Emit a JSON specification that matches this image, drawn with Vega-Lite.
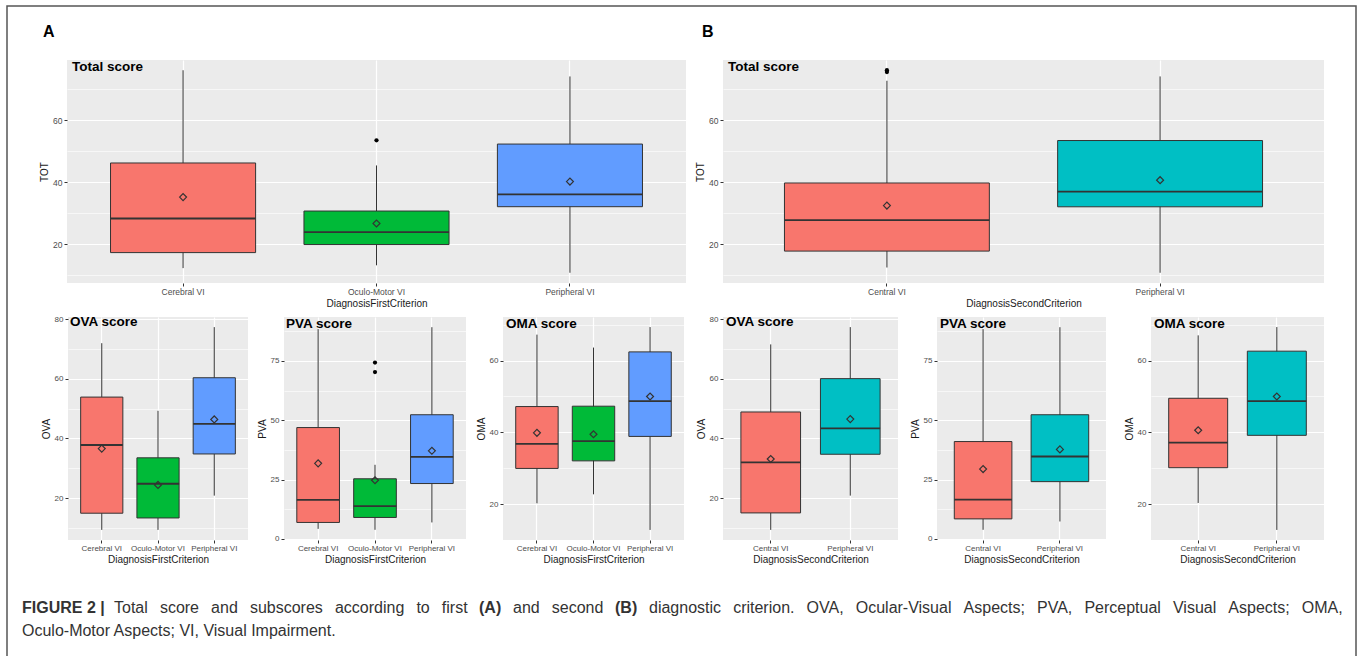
{
"$schema": "https://vega.github.io/schema/vega-lite/v6.json",
"autosize": {"type": "none"},
"padding": {"left": 7, "top": 6, "right": 1353, "bottom": 650},
"background": "#FFFFFF",
"bounds": "flush",
"spacing": 0,
"resolve": {"scale": {"fill": "independent"}},
"config": {"view": {"stroke": null}, "font": "Liberation Sans", "axis": {"labelFont": "Liberation Sans", "titleFont": "Liberation Sans"}, "title": {"font": "Liberation Sans", "subtitleFont": "Liberation Sans"}},
"datasets": {
"stats": [
{"panel": "A_TOT", "cat": "Cerebral VI", "lo": 12.3, "q1": 17.3, "med": 28.3, "q3": 46.2, "hi": 76.1, "mean": 35.2},
{"panel": "A_TOT", "cat": "Oculo-Motor VI", "lo": 13.2, "q1": 19.9, "med": 23.9, "q3": 30.7, "hi": 45.4, "mean": 26.7},
{"panel": "A_TOT", "cat": "Peripheral VI", "lo": 10.8, "q1": 32.1, "med": 36.1, "q3": 52.3, "hi": 74.1, "mean": 40.2},
{"panel": "B_TOT", "cat": "Central VI", "lo": 12.5, "q1": 17.8, "med": 27.8, "q3": 39.8, "hi": 72.8, "mean": 32.5},
{"panel": "B_TOT", "cat": "Peripheral VI", "lo": 10.8, "q1": 32.1, "med": 37.0, "q3": 53.5, "hi": 74.2, "mean": 40.7},
{"panel": "A_OVA", "cat": "Cerebral VI", "lo": 9.3, "q1": 14.9, "med": 37.8, "q3": 53.9, "hi": 72.0, "mean": 36.6},
{"panel": "A_OVA", "cat": "Oculo-Motor VI", "lo": 9.3, "q1": 13.3, "med": 24.8, "q3": 33.5, "hi": 49.3, "mean": 24.4},
{"panel": "A_OVA", "cat": "Peripheral VI", "lo": 20.8, "q1": 34.8, "med": 44.9, "q3": 60.4, "hi": 77.4, "mean": 46.4},
{"panel": "A_PVA", "cat": "Cerebral VI", "lo": 4.2, "q1": 6.9, "med": 16.4, "q3": 46.9, "hi": 88.4, "mean": 31.8},
{"panel": "A_PVA", "cat": "Oculo-Motor VI", "lo": 3.8, "q1": 9.0, "med": 13.8, "q3": 25.3, "hi": 31.2, "mean": 24.7},
{"panel": "A_PVA", "cat": "Peripheral VI", "lo": 6.9, "q1": 23.3, "med": 34.5, "q3": 52.3, "hi": 89.2, "mean": 37.1},
{"panel": "A_OMA", "cat": "Cerebral VI", "lo": 20.3, "q1": 30.0, "med": 36.8, "q3": 47.2, "hi": 67.2, "mean": 39.9},
{"panel": "A_OMA", "cat": "Oculo-Motor VI", "lo": 22.8, "q1": 32.1, "med": 37.6, "q3": 47.3, "hi": 63.6, "mean": 39.5},
{"panel": "A_OMA", "cat": "Peripheral VI", "lo": 12.9, "q1": 38.9, "med": 48.7, "q3": 62.4, "hi": 69.3, "mean": 50.0},
{"panel": "B_OVA", "cat": "Central VI", "lo": 9.3, "q1": 15.0, "med": 32.0, "q3": 48.9, "hi": 71.6, "mean": 33.1},
{"panel": "B_OVA", "cat": "Peripheral VI", "lo": 20.8, "q1": 34.7, "med": 43.4, "q3": 60.1, "hi": 77.4, "mean": 46.5},
{"panel": "B_PVA", "cat": "Central VI", "lo": 3.8, "q1": 8.4, "med": 16.5, "q3": 41.0, "hi": 88.4, "mean": 29.4},
{"panel": "B_PVA", "cat": "Peripheral VI", "lo": 7.3, "q1": 24.1, "med": 34.7, "q3": 52.3, "hi": 89.2, "mean": 37.7},
{"panel": "B_OMA", "cat": "Central VI", "lo": 20.4, "q1": 30.2, "med": 37.2, "q3": 49.5, "hi": 67.0, "mean": 40.6},
{"panel": "B_OMA", "cat": "Peripheral VI", "lo": 12.9, "q1": 39.2, "med": 48.7, "q3": 62.6, "hi": 69.3, "mean": 50.0}
],
"outliers": [
{"panel": "A_TOT", "cat": "Oculo-Motor VI", "val": 53.5},
{"panel": "B_TOT", "cat": "Central VI", "val": 75.6},
{"panel": "B_TOT", "cat": "Central VI", "val": 76.2},
{"panel": "A_PVA", "cat": "Oculo-Motor VI", "val": 70.3},
{"panel": "A_PVA", "cat": "Oculo-Motor VI", "val": 74.3}
]
},
"vconcat": [
{"bounds": "flush", "spacing": 0, "vconcat": [
 {"width": 1349, "height": 680, "data": {"values": []}, "mark": "rect", "encoding": {},
  "view": {"stroke": "#555555", "strokeWidth": 1.5, "fill": null},
  "title": {"text": "FIGURE 2 |", "subtitle": "Oculo-Motor Aspects; VI, Visual Impairment.",
   "orient": "bottom", "anchor": "start", "frame": "group", "baseline": "top", "offset": -86, "dx": 15,
   "fontSize": 16, "fontWeight": "bold", "color": "#333333",
   "subtitleFontSize": 16, "subtitleFontWeight": "normal", "subtitleColor": "#333333", "subtitlePadding": 7}}
]},
{"width": 10, "height": 54, "data": {"values": []}, "mark": "rect", "encoding": {}},
{"bounds": "flush", "spacing": 0, "resolve": {"scale": {"fill": "independent"}}, "hconcat": [
 {"width": 60, "height": 10, "data": {"values": []}, "mark": "rect", "encoding": {},
  "title": {"text": "A", "anchor": "start", "frame": "group", "orient": "top", "baseline": "top", "offset": 20, "dx": 36, "fontSize": 16, "fontWeight": "bold", "color": "#000000"}},
 {"width": 619, "height": 223, "view": {"fill": "#EBEBEB", "stroke": null},
  "title": {"text": "Total score", "anchor": "start", "frame": "group", "orient": "top", "baseline": "top", "offset": -13, "dx": 5, "fontSize": 13.5, "fontWeight": "bold", "color": "#000000"},
  "data": {"name": "stats"}, "transform": [{"filter": "datum.panel === 'A_TOT'"}],
  "resolve": {"axis": {"y": "independent"}},
  "encoding": {"x": {"field": "cat", "type": "nominal", "scale": {"type": "band", "domain": ["Cerebral VI", "Oculo-Motor VI", "Peripheral VI"], "paddingInner": 0.25, "paddingOuter": 0.225},
   "axis": {"title": "DiagnosisFirstCriterion", "labelAngle": 0, "domain": false, "tickSize": 3, "tickColor": "#333333", "labelFontSize": 8.5, "labelColor": "#4D4D4D", "labelPadding": 1.5, "titleFontSize": 10, "titleFontWeight": "normal", "titleColor": "#1A1A1A", "titlePadding": 2, "grid": true, "gridColor": "#FFFFFF", "gridWidth": 1.2, "bandPosition": 0.5}}},
  "layer": [
   {"mark": {"type": "rule", "color": "#333333", "strokeWidth": 1}, "encoding": {"y": {"field": "lo", "type": "quantitative", "scale": {"domain": [7.5, 79.4], "nice": false, "zero": false},
     "axis": {"orient": "left", "title": "TOT", "values": [20, 40, 60], "domain": false, "tickSize": 3, "tickColor": "#333333", "labelFontSize": 8.5, "labelColor": "#4D4D4D", "labelPadding": 2, "titleFontSize": 10, "titleFontWeight": "normal", "titleColor": "#1A1A1A", "titlePadding": 3, "grid": true, "gridColor": "#FFFFFF", "gridWidth": 1.2}}, "y2": {"field": "hi"}}},
   {"mark": {"type": "bar", "stroke": "#333333", "strokeWidth": 1}, "encoding": {"y": {"field": "q1", "type": "quantitative", "axis": {"orient": "left", "title": null, "values": [10, 30, 50, 70], "labels": false, "ticks": false, "domain": false, "grid": true, "gridColor": "#FFFFFF", "gridWidth": 0.6}}, "y2": {"field": "q3"}, "fill": {"field": "cat", "type": "nominal", "scale": {"domain": ["Cerebral VI", "Oculo-Motor VI", "Peripheral VI"], "range": ["#F8766D", "#00BA38", "#619CFF"]}, "legend": null}}},
   {"mark": {"type": "bar", "stroke": "#333333", "strokeWidth": 1.8, "fillOpacity": 0}, "encoding": {"y": {"field": "med", "type": "quantitative", "axis": null}, "y2": {"field": "med"}}},
   {"mark": {"type": "point", "shape": "diamond", "filled": false, "stroke": "#333333", "strokeWidth": 1.2, "size": 48, "opacity": 1}, "encoding": {"y": {"field": "mean", "type": "quantitative", "axis": null}}},
   {"data": {"name": "outliers"}, "transform": [{"filter": "datum.panel === 'A_TOT'"}], "mark": {"type": "circle", "color": "#000000", "size": 18, "opacity": 1}, "encoding": {"y": {"field": "val", "type": "quantitative", "axis": null}}}
  ]},
 {"width": 37, "height": 10, "data": {"values": []}, "mark": "rect", "encoding": {},
  "title": {"text": "B", "anchor": "start", "frame": "group", "orient": "top", "baseline": "top", "offset": 20, "dx": 16, "fontSize": 16, "fontWeight": "bold", "color": "#000000"}},
 {"width": 601, "height": 223, "view": {"fill": "#EBEBEB", "stroke": null},
  "title": {"text": "Total score", "anchor": "start", "frame": "group", "orient": "top", "baseline": "top", "offset": -13, "dx": 5, "fontSize": 13.5, "fontWeight": "bold", "color": "#000000"},
  "data": {"name": "stats"}, "transform": [{"filter": "datum.panel === 'B_TOT'"}],
  "resolve": {"axis": {"y": "independent"}},
  "encoding": {"x": {"field": "cat", "type": "nominal", "scale": {"type": "band", "domain": ["Central VI", "Peripheral VI"], "paddingInner": 0.25, "paddingOuter": 0.225},
   "axis": {"title": "DiagnosisSecondCriterion", "labelAngle": 0, "domain": false, "tickSize": 3, "tickColor": "#333333", "labelFontSize": 8.5, "labelColor": "#4D4D4D", "labelPadding": 1.5, "titleFontSize": 10, "titleFontWeight": "normal", "titleColor": "#1A1A1A", "titlePadding": 2, "grid": true, "gridColor": "#FFFFFF", "gridWidth": 1.2, "bandPosition": 0.5}}},
  "layer": [
   {"mark": {"type": "rule", "color": "#333333", "strokeWidth": 1}, "encoding": {"y": {"field": "lo", "type": "quantitative", "scale": {"domain": [7.5, 79.5], "nice": false, "zero": false},
     "axis": {"orient": "left", "title": "TOT", "values": [20, 40, 60], "domain": false, "tickSize": 3, "tickColor": "#333333", "labelFontSize": 8.5, "labelColor": "#4D4D4D", "labelPadding": 2, "titleFontSize": 10, "titleFontWeight": "normal", "titleColor": "#1A1A1A", "titlePadding": 3, "grid": true, "gridColor": "#FFFFFF", "gridWidth": 1.2}}, "y2": {"field": "hi"}}},
   {"mark": {"type": "bar", "stroke": "#333333", "strokeWidth": 1}, "encoding": {"y": {"field": "q1", "type": "quantitative", "axis": {"orient": "left", "title": null, "values": [10, 30, 50, 70], "labels": false, "ticks": false, "domain": false, "grid": true, "gridColor": "#FFFFFF", "gridWidth": 0.6}}, "y2": {"field": "q3"}, "fill": {"field": "cat", "type": "nominal", "scale": {"domain": ["Central VI", "Peripheral VI"], "range": ["#F8766D", "#00BFC4"]}, "legend": null}}},
   {"mark": {"type": "bar", "stroke": "#333333", "strokeWidth": 1.8, "fillOpacity": 0}, "encoding": {"y": {"field": "med", "type": "quantitative", "axis": null}, "y2": {"field": "med"}}},
   {"mark": {"type": "point", "shape": "diamond", "filled": false, "stroke": "#333333", "strokeWidth": 1.2, "size": 48, "opacity": 1}, "encoding": {"y": {"field": "mean", "type": "quantitative", "axis": null}}},
   {"data": {"name": "outliers"}, "transform": [{"filter": "datum.panel === 'B_TOT'"}], "mark": {"type": "circle", "color": "#000000", "size": 18, "opacity": 1}, "encoding": {"y": {"field": "val", "type": "quantitative", "axis": null}}}
  ]}
]},
{"width": 10, "height": 257, "data": {"values": []}, "mark": "rect", "encoding": {}},
{"bounds": "flush", "spacing": 0, "resolve": {"scale": {"fill": "independent"}}, "hconcat": [
 {"width": 61, "height": 10, "data": {"values": []}, "mark": "rect", "encoding": {},
  "title": {"text": "Total \u00a0\u2009score \u00a0\u2009and \u00a0\u2009subscores \u00a0\u2009according \u00a0\u2009to \u00a0\u2009first",
   "orient": "bottom", "anchor": "start", "frame": "group", "baseline": "top", "offset": 273, "dx": 107, "fontSize": 16, "fontWeight": "normal", "color": "#333333"}},
 {"width": 180, "height": 223, "view": {"fill": "#EBEBEB", "stroke": null},
  "title": {"text": "OVA score", "anchor": "start", "frame": "group", "orient": "top", "baseline": "top", "offset": -13, "dx": 2, "fontSize": 13.5, "fontWeight": "bold", "color": "#000000"},
  "data": {"name": "stats"}, "transform": [{"filter": "datum.panel === 'A_OVA'"}],
  "resolve": {"axis": {"y": "independent"}},
  "encoding": {"x": {"field": "cat", "type": "nominal", "scale": {"type": "band", "domain": ["Cerebral VI", "Oculo-Motor VI", "Peripheral VI"], "paddingInner": 0.25, "paddingOuter": 0.225},
   "axis": {"title": "DiagnosisFirstCriterion", "labelAngle": 0, "domain": false, "tickSize": 3, "tickColor": "#333333", "labelFontSize": 8, "labelColor": "#4D4D4D", "labelPadding": 1.5, "titleFontSize": 10, "titleFontWeight": "normal", "titleColor": "#1A1A1A", "titlePadding": 2, "grid": true, "gridColor": "#FFFFFF", "gridWidth": 1.2, "bandPosition": 0.5}}},
  "layer": [
   {"mark": {"type": "rule", "color": "#333333", "strokeWidth": 1}, "encoding": {"y": {"field": "lo", "type": "quantitative", "scale": {"domain": [5.9, 80.8], "nice": false, "zero": false},
     "axis": {"orient": "left", "title": "OVA", "values": [20, 40, 60, 80], "domain": false, "tickSize": 3, "tickColor": "#333333", "labelFontSize": 8, "labelColor": "#4D4D4D", "labelPadding": 2, "titleFontSize": 10, "titleFontWeight": "normal", "titleColor": "#1A1A1A", "titlePadding": 3, "grid": true, "gridColor": "#FFFFFF", "gridWidth": 1.2}}, "y2": {"field": "hi"}}},
   {"mark": {"type": "bar", "stroke": "#333333", "strokeWidth": 1}, "encoding": {"y": {"field": "q1", "type": "quantitative", "axis": {"orient": "left", "title": null, "values": [10, 30, 50, 70], "labels": false, "ticks": false, "domain": false, "grid": true, "gridColor": "#FFFFFF", "gridWidth": 0.6}}, "y2": {"field": "q3"}, "fill": {"field": "cat", "type": "nominal", "scale": {"domain": ["Cerebral VI", "Oculo-Motor VI", "Peripheral VI"], "range": ["#F8766D", "#00BA38", "#619CFF"]}, "legend": null}}},
   {"mark": {"type": "bar", "stroke": "#333333", "strokeWidth": 1.8, "fillOpacity": 0}, "encoding": {"y": {"field": "med", "type": "quantitative", "axis": null}, "y2": {"field": "med"}}},
   {"mark": {"type": "point", "shape": "diamond", "filled": false, "stroke": "#333333", "strokeWidth": 1.2, "size": 48, "opacity": 1}, "encoding": {"y": {"field": "mean", "type": "quantitative", "axis": null}}}
  ]},
 {"width": 36, "height": 10, "data": {"values": []}, "mark": "rect", "encoding": {},
  "title": {"text": "(A)", "orient": "bottom", "anchor": "start", "frame": "group", "baseline": "top", "offset": 273, "dx": 231, "fontSize": 16, "fontWeight": "bold", "color": "#333333"}},
 {"width": 182, "height": 223, "view": {"fill": "#EBEBEB", "stroke": null},
  "title": {"text": "PVA score", "anchor": "start", "frame": "group", "orient": "top", "baseline": "top", "offset": -13, "dx": 2, "fontSize": 13.5, "fontWeight": "bold", "color": "#000000"},
  "data": {"name": "stats"}, "transform": [{"filter": "datum.panel === 'A_PVA'"}],
  "resolve": {"axis": {"y": "independent"}},
  "encoding": {"x": {"field": "cat", "type": "nominal", "scale": {"type": "band", "domain": ["Cerebral VI", "Oculo-Motor VI", "Peripheral VI"], "paddingInner": 0.25, "paddingOuter": 0.225},
   "axis": {"title": "DiagnosisFirstCriterion", "labelAngle": 0, "domain": false, "tickSize": 3, "tickColor": "#333333", "labelFontSize": 8, "labelColor": "#4D4D4D", "labelPadding": 1.5, "titleFontSize": 10, "titleFontWeight": "normal", "titleColor": "#1A1A1A", "titlePadding": 2, "grid": true, "gridColor": "#FFFFFF", "gridWidth": 1.2, "bandPosition": 0.5}}},
  "layer": [
   {"mark": {"type": "rule", "color": "#333333", "strokeWidth": 1}, "encoding": {"y": {"field": "lo", "type": "quantitative", "scale": {"domain": [-0.5, 93.5], "nice": false, "zero": false},
     "axis": {"orient": "left", "title": "PVA", "values": [0, 25, 50, 75], "domain": false, "tickSize": 3, "tickColor": "#333333", "labelFontSize": 8, "labelColor": "#4D4D4D", "labelPadding": 2, "titleFontSize": 10, "titleFontWeight": "normal", "titleColor": "#1A1A1A", "titlePadding": 3, "grid": true, "gridColor": "#FFFFFF", "gridWidth": 1.2}}, "y2": {"field": "hi"}}},
   {"mark": {"type": "bar", "stroke": "#333333", "strokeWidth": 1}, "encoding": {"y": {"field": "q1", "type": "quantitative", "axis": {"orient": "left", "title": null, "values": [12.5, 37.5, 62.5, 87.5], "labels": false, "ticks": false, "domain": false, "grid": true, "gridColor": "#FFFFFF", "gridWidth": 0.6}}, "y2": {"field": "q3"}, "fill": {"field": "cat", "type": "nominal", "scale": {"domain": ["Cerebral VI", "Oculo-Motor VI", "Peripheral VI"], "range": ["#F8766D", "#00BA38", "#619CFF"]}, "legend": null}}},
   {"mark": {"type": "bar", "stroke": "#333333", "strokeWidth": 1.8, "fillOpacity": 0}, "encoding": {"y": {"field": "med", "type": "quantitative", "axis": null}, "y2": {"field": "med"}}},
   {"mark": {"type": "point", "shape": "diamond", "filled": false, "stroke": "#333333", "strokeWidth": 1.2, "size": 48, "opacity": 1}, "encoding": {"y": {"field": "mean", "type": "quantitative", "axis": null}}},
   {"data": {"name": "outliers"}, "transform": [{"filter": "datum.panel === 'A_PVA'"}], "mark": {"type": "circle", "color": "#000000", "size": 18, "opacity": 1}, "encoding": {"y": {"field": "val", "type": "quantitative", "axis": null}}}
  ]},
 {"width": 37, "height": 10, "data": {"values": []}, "mark": "rect", "encoding": {},
  "title": {"text": "and \u00a0\u2009second", "orient": "bottom", "anchor": "start", "frame": "group", "baseline": "top", "offset": 273, "dx": 47, "fontSize": 16, "fontWeight": "normal", "color": "#333333"}},
 {"width": 181, "height": 223, "view": {"fill": "#EBEBEB", "stroke": null},
  "title": {"text": "OMA score", "anchor": "start", "frame": "group", "orient": "top", "baseline": "top", "offset": -13, "dx": 3, "fontSize": 13.5, "fontWeight": "bold", "color": "#000000"},
  "data": {"name": "stats"}, "transform": [{"filter": "datum.panel === 'A_OMA'"}],
  "resolve": {"axis": {"y": "independent"}},
  "encoding": {"x": {"field": "cat", "type": "nominal", "scale": {"type": "band", "domain": ["Cerebral VI", "Oculo-Motor VI", "Peripheral VI"], "paddingInner": 0.25, "paddingOuter": 0.225},
   "axis": {"title": "DiagnosisFirstCriterion", "labelAngle": 0, "domain": false, "tickSize": 3, "tickColor": "#333333", "labelFontSize": 8, "labelColor": "#4D4D4D", "labelPadding": 1.5, "titleFontSize": 10, "titleFontWeight": "normal", "titleColor": "#1A1A1A", "titlePadding": 2, "grid": true, "gridColor": "#FFFFFF", "gridWidth": 1.2, "bandPosition": 0.5}}},
  "layer": [
   {"mark": {"type": "rule", "color": "#333333", "strokeWidth": 1}, "encoding": {"y": {"field": "lo", "type": "quantitative", "scale": {"domain": [10.1, 72.1], "nice": false, "zero": false},
     "axis": {"orient": "left", "title": "OMA", "values": [20, 40, 60], "domain": false, "tickSize": 3, "tickColor": "#333333", "labelFontSize": 8, "labelColor": "#4D4D4D", "labelPadding": 2, "titleFontSize": 10, "titleFontWeight": "normal", "titleColor": "#1A1A1A", "titlePadding": 3, "grid": true, "gridColor": "#FFFFFF", "gridWidth": 1.2}}, "y2": {"field": "hi"}}},
   {"mark": {"type": "bar", "stroke": "#333333", "strokeWidth": 1}, "encoding": {"y": {"field": "q1", "type": "quantitative", "axis": {"orient": "left", "title": null, "values": [30, 50, 70], "labels": false, "ticks": false, "domain": false, "grid": true, "gridColor": "#FFFFFF", "gridWidth": 0.6}}, "y2": {"field": "q3"}, "fill": {"field": "cat", "type": "nominal", "scale": {"domain": ["Cerebral VI", "Oculo-Motor VI", "Peripheral VI"], "range": ["#F8766D", "#00BA38", "#619CFF"]}, "legend": null}}},
   {"mark": {"type": "bar", "stroke": "#333333", "strokeWidth": 1.8, "fillOpacity": 0}, "encoding": {"y": {"field": "med", "type": "quantitative", "axis": null}, "y2": {"field": "med"}}},
   {"mark": {"type": "point", "shape": "diamond", "filled": false, "stroke": "#333333", "strokeWidth": 1.2, "size": 48, "opacity": 1}, "encoding": {"y": {"field": "mean", "type": "quantitative", "axis": null}}}
  ]},
 {"width": 39, "height": 10, "data": {"values": []}, "mark": "rect", "encoding": {},
  "title": {"text": "(B)", "orient": "bottom", "anchor": "start", "frame": "group", "baseline": "top", "offset": 273, "dx": -69, "fontSize": 16, "fontWeight": "bold", "color": "#333333"}},
 {"width": 175, "height": 223, "view": {"fill": "#EBEBEB", "stroke": null},
  "title": {"text": "OVA score", "anchor": "start", "frame": "group", "orient": "top", "baseline": "top", "offset": -13, "dx": 3, "fontSize": 13.5, "fontWeight": "bold", "color": "#000000"},
  "data": {"name": "stats"}, "transform": [{"filter": "datum.panel === 'B_OVA'"}],
  "resolve": {"axis": {"y": "independent"}},
  "encoding": {"x": {"field": "cat", "type": "nominal", "scale": {"type": "band", "domain": ["Central VI", "Peripheral VI"], "paddingInner": 0.25, "paddingOuter": 0.225},
   "axis": {"title": "DiagnosisSecondCriterion", "labelAngle": 0, "domain": false, "tickSize": 3, "tickColor": "#333333", "labelFontSize": 8, "labelColor": "#4D4D4D", "labelPadding": 1.5, "titleFontSize": 10, "titleFontWeight": "normal", "titleColor": "#1A1A1A", "titlePadding": 2, "grid": true, "gridColor": "#FFFFFF", "gridWidth": 1.2, "bandPosition": 0.5}}},
  "layer": [
   {"mark": {"type": "rule", "color": "#333333", "strokeWidth": 1}, "encoding": {"y": {"field": "lo", "type": "quantitative", "scale": {"domain": [5.9, 80.8], "nice": false, "zero": false},
     "axis": {"orient": "left", "title": "OVA", "values": [20, 40, 60, 80], "domain": false, "tickSize": 3, "tickColor": "#333333", "labelFontSize": 8, "labelColor": "#4D4D4D", "labelPadding": 2, "titleFontSize": 10, "titleFontWeight": "normal", "titleColor": "#1A1A1A", "titlePadding": 3, "grid": true, "gridColor": "#FFFFFF", "gridWidth": 1.2}}, "y2": {"field": "hi"}}},
   {"mark": {"type": "bar", "stroke": "#333333", "strokeWidth": 1}, "encoding": {"y": {"field": "q1", "type": "quantitative", "axis": {"orient": "left", "title": null, "values": [10, 30, 50, 70], "labels": false, "ticks": false, "domain": false, "grid": true, "gridColor": "#FFFFFF", "gridWidth": 0.6}}, "y2": {"field": "q3"}, "fill": {"field": "cat", "type": "nominal", "scale": {"domain": ["Central VI", "Peripheral VI"], "range": ["#F8766D", "#00BFC4"]}, "legend": null}}},
   {"mark": {"type": "bar", "stroke": "#333333", "strokeWidth": 1.8, "fillOpacity": 0}, "encoding": {"y": {"field": "med", "type": "quantitative", "axis": null}, "y2": {"field": "med"}}},
   {"mark": {"type": "point", "shape": "diamond", "filled": false, "stroke": "#333333", "strokeWidth": 1.2, "size": 48, "opacity": 1}, "encoding": {"y": {"field": "mean", "type": "quantitative", "axis": null}}}
  ]},
 {"width": 39, "height": 10, "data": {"values": []}, "mark": "rect", "encoding": {},
  "title": {"text": "diagnostic \u00a0\u2009criterion. \u00a0\u2009OVA, \u00a0\u2009Ocular-Visual \u00a0\u2009Aspects; \u00a0\u2009PVA, \u00a0\u2009Perceptual \u00a0\u2009Visual \u00a0\u2009Aspects; \u00a0\u2009OMA,", "orient": "bottom", "anchor": "start", "frame": "group", "baseline": "top", "offset": 273, "dx": -249, "fontSize": 16, "fontWeight": "normal", "color": "#333333"}},
 {"width": 169, "height": 223, "view": {"fill": "#EBEBEB", "stroke": null},
  "title": {"text": "PVA score", "anchor": "start", "frame": "group", "orient": "top", "baseline": "top", "offset": -13, "dx": 3, "fontSize": 13.5, "fontWeight": "bold", "color": "#000000"},
  "data": {"name": "stats"}, "transform": [{"filter": "datum.panel === 'B_PVA'"}],
  "resolve": {"axis": {"y": "independent"}},
  "encoding": {"x": {"field": "cat", "type": "nominal", "scale": {"type": "band", "domain": ["Central VI", "Peripheral VI"], "paddingInner": 0.25, "paddingOuter": 0.225},
   "axis": {"title": "DiagnosisSecondCriterion", "labelAngle": 0, "domain": false, "tickSize": 3, "tickColor": "#333333", "labelFontSize": 8, "labelColor": "#4D4D4D", "labelPadding": 1.5, "titleFontSize": 10, "titleFontWeight": "normal", "titleColor": "#1A1A1A", "titlePadding": 2, "grid": true, "gridColor": "#FFFFFF", "gridWidth": 1.2, "bandPosition": 0.5}}},
  "layer": [
   {"mark": {"type": "rule", "color": "#333333", "strokeWidth": 1}, "encoding": {"y": {"field": "lo", "type": "quantitative", "scale": {"domain": [-0.5, 93.5], "nice": false, "zero": false},
     "axis": {"orient": "left", "title": "PVA", "values": [0, 25, 50, 75], "domain": false, "tickSize": 3, "tickColor": "#333333", "labelFontSize": 8, "labelColor": "#4D4D4D", "labelPadding": 2, "titleFontSize": 10, "titleFontWeight": "normal", "titleColor": "#1A1A1A", "titlePadding": 3, "grid": true, "gridColor": "#FFFFFF", "gridWidth": 1.2}}, "y2": {"field": "hi"}}},
   {"mark": {"type": "bar", "stroke": "#333333", "strokeWidth": 1}, "encoding": {"y": {"field": "q1", "type": "quantitative", "axis": {"orient": "left", "title": null, "values": [12.5, 37.5, 62.5, 87.5], "labels": false, "ticks": false, "domain": false, "grid": true, "gridColor": "#FFFFFF", "gridWidth": 0.6}}, "y2": {"field": "q3"}, "fill": {"field": "cat", "type": "nominal", "scale": {"domain": ["Central VI", "Peripheral VI"], "range": ["#F8766D", "#00BFC4"]}, "legend": null}}},
   {"mark": {"type": "bar", "stroke": "#333333", "strokeWidth": 1.8, "fillOpacity": 0}, "encoding": {"y": {"field": "med", "type": "quantitative", "axis": null}, "y2": {"field": "med"}}},
   {"mark": {"type": "point", "shape": "diamond", "filled": false, "stroke": "#333333", "strokeWidth": 1.2, "size": 48, "opacity": 1}, "encoding": {"y": {"field": "mean", "type": "quantitative", "axis": null}}}
  ]},
 {"width": 45, "height": 10, "data": {"values": []}, "mark": "rect", "encoding": {}},
 {"width": 173, "height": 223, "view": {"fill": "#EBEBEB", "stroke": null},
  "title": {"text": "OMA score", "anchor": "start", "frame": "group", "orient": "top", "baseline": "top", "offset": -13, "dx": 3, "fontSize": 13.5, "fontWeight": "bold", "color": "#000000"},
  "data": {"name": "stats"}, "transform": [{"filter": "datum.panel === 'B_OMA'"}],
  "resolve": {"axis": {"y": "independent"}},
  "encoding": {"x": {"field": "cat", "type": "nominal", "scale": {"type": "band", "domain": ["Central VI", "Peripheral VI"], "paddingInner": 0.25, "paddingOuter": 0.225},
   "axis": {"title": "DiagnosisSecondCriterion", "labelAngle": 0, "domain": false, "tickSize": 3, "tickColor": "#333333", "labelFontSize": 8, "labelColor": "#4D4D4D", "labelPadding": 1.5, "titleFontSize": 10, "titleFontWeight": "normal", "titleColor": "#1A1A1A", "titlePadding": 2, "grid": true, "gridColor": "#FFFFFF", "gridWidth": 1.2, "bandPosition": 0.5}}},
  "layer": [
   {"mark": {"type": "rule", "color": "#333333", "strokeWidth": 1}, "encoding": {"y": {"field": "lo", "type": "quantitative", "scale": {"domain": [10.1, 72.1], "nice": false, "zero": false},
     "axis": {"orient": "left", "title": "OMA", "values": [20, 40, 60], "domain": false, "tickSize": 3, "tickColor": "#333333", "labelFontSize": 8, "labelColor": "#4D4D4D", "labelPadding": 2, "titleFontSize": 10, "titleFontWeight": "normal", "titleColor": "#1A1A1A", "titlePadding": 3, "grid": true, "gridColor": "#FFFFFF", "gridWidth": 1.2}}, "y2": {"field": "hi"}}},
   {"mark": {"type": "bar", "stroke": "#333333", "strokeWidth": 1}, "encoding": {"y": {"field": "q1", "type": "quantitative", "axis": {"orient": "left", "title": null, "values": [30, 50, 70], "labels": false, "ticks": false, "domain": false, "grid": true, "gridColor": "#FFFFFF", "gridWidth": 0.6}}, "y2": {"field": "q3"}, "fill": {"field": "cat", "type": "nominal", "scale": {"domain": ["Central VI", "Peripheral VI"], "range": ["#F8766D", "#00BFC4"]}, "legend": null}}},
   {"mark": {"type": "bar", "stroke": "#333333", "strokeWidth": 1.8, "fillOpacity": 0}, "encoding": {"y": {"field": "med", "type": "quantitative", "axis": null}, "y2": {"field": "med"}}},
   {"mark": {"type": "point", "shape": "diamond", "filled": false, "stroke": "#333333", "strokeWidth": 1.2, "size": 48, "opacity": 1}, "encoding": {"y": {"field": "mean", "type": "quantitative", "axis": null}}}
  ]}
]}
]
}
